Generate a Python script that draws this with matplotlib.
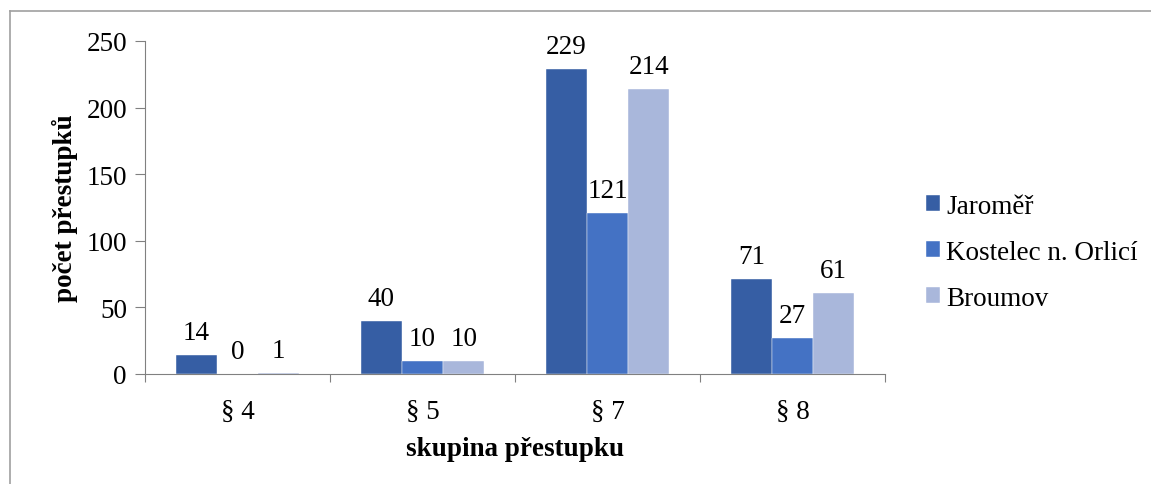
import matplotlib
matplotlib.use('Agg')
import matplotlib.pyplot as plt
from matplotlib.lines import Line2D
import numpy as np

# data
groups = ['§ 4', '§ 5', '§ 7', '§ 8']
series = ['Jaroměř', 'Kostelec n. Orlicí', 'Broumov']
jaromer = [14, 40, 229, 71]
kostelec = [0, 10, 121, 27]
broumov = [1, 10, 214, 61]
colors = ['#365EA4', '#4472C4', '#A9B7DB']

plt.rcParams['font.family'] = ['Liberation Serif', 'DejaVu Serif']
fs = 19.5

fig = plt.figure(figsize=(11.51, 4.85), dpi=100)
ax = fig.add_axes([145/1151, 1-375/485, 740/1151, 333/485])

x = np.arange(len(groups))
w = 1/4.5
for i, (name, vals) in enumerate(zip(series, [jaromer, kostelec, broumov])):
    bars = ax.bar(x + (i-1)*w, vals, w, color=colors[i], label=name,
                  edgecolor='white', linewidth=0.3)
    for b, v in zip(bars, vals):
        ax.annotate(str(v), (b.get_x()+b.get_width()/2, v), xytext=(0, 11.5),
                    textcoords='offset points', ha='center', va='baseline',
                    fontsize=fs)

ax.set_xlim(-0.5, len(groups)-0.5)
ax.set_ylim(0, 250)
ax.set_yticks(range(0, 251, 50))
ax.set_xticks(np.arange(-0.5, len(groups), 1))
ax.set_xticklabels([])
ax.set_xticks(x, minor=True)
ax.set_xticklabels(groups, minor=True)
ax.tick_params(axis='x', which='minor', length=0, pad=18, labelsize=fs)
ax.tick_params(axis='x', which='major', length=6, color='#808080')
ax.tick_params(axis='y', length=7, color='#808080', labelsize=fs, pad=6)
for s in ['top', 'right']:
    ax.spines[s].set_visible(False)
for s in ['left', 'bottom']:
    ax.spines[s].set_color('#808080')

ax.set_xlabel('skupina přestupku', fontsize=fs, fontweight='bold', labelpad=9)
ax.set_ylabel('počet přestupků', fontsize=fs, fontweight='bold')
ax.yaxis.set_label_coords(-0.09, 0.5)

ax.legend(loc='center left', bbox_to_anchor=(926/1151, 0.478), bbox_transform=fig.transFigure,
          frameon=False, fontsize=fs, handlelength=0.5, handleheight=0.5,
          handletextpad=0.25, labelspacing=0.78, borderpad=0, borderaxespad=0)

# outer chart border (top and left edges visible)
fig.add_artist(Line2D([10/1151, 10/1151], [0, 1-12/485], transform=fig.transFigure,
                      color='#a0a0a0', linewidth=1.2))
fig.add_artist(Line2D([10/1151, 1], [1-12/485, 1-12/485], transform=fig.transFigure,
                      color='#a0a0a0', linewidth=1.2))

fig.savefig('out.png', dpi=100)
